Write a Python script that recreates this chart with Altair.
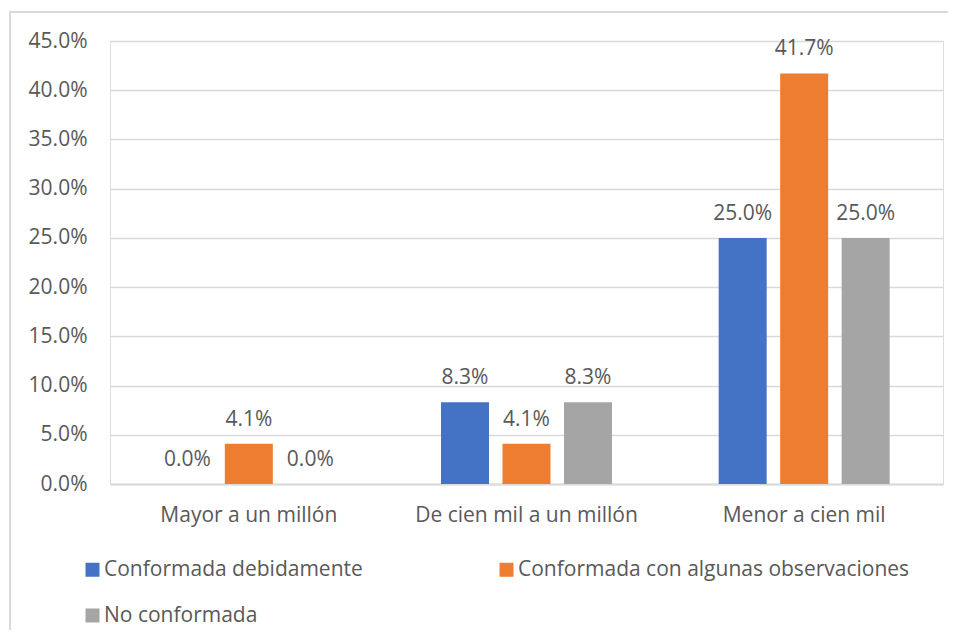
import altair as alt
import pandas as pd

categories = ["Mayor a un millón", "De cien mil a un millón", "Menor a cien mil"]
series = ["Conformada debidamente", "Conformada con algunas observaciones", "No conformada"]
colors = ["#4472C4", "#ED7D31", "#A5A5A5"]
values_conformada = [0.0, 0.083, 0.25]
values_observaciones = [0.041, 0.041, 0.417]
values_no = [0.0, 0.083, 0.25]
y_ticks = [0, 0.05, 0.10, 0.15, 0.20, 0.25, 0.30, 0.35, 0.40, 0.45]

rows = []
for i, c in enumerate(categories):
    for s, vals in zip(series, [values_conformada, values_observaciones, values_no]):
        rows.append({"cat": c, "serie": s, "v": vals[i]})
df = pd.DataFrame(rows)

FONT = "Open Sans"
TXT = "#595959"
FS = 21

x = alt.X("cat:N", sort=categories, title=None,
          scale=alt.Scale(paddingInner=0, paddingOuter=0),
          axis=alt.Axis(labelAngle=0, ticks=False, domainColor="#d9d9d9", domainWidth=2,
                        labelFontSize=FS, labelColor=TXT, labelFont=FONT, labelPadding=20,
                        labelBaseline="top", labelLimit=0))
xo = alt.XOffset("serie:N", sort=series,
                 scale=alt.Scale(paddingInner=0.22, paddingOuter=0.868))
y = alt.Y("v:Q", title=None,
          scale=alt.Scale(domain=[0, 0.45], nice=False),
          axis=alt.Axis(values=y_ticks, format=".1%", domain=False, ticks=False,
                        gridColor="#d9d9d9", gridWidth=1.5, labelFontSize=FS,
                        labelColor=TXT, labelFont=FONT, labelPadding=23))
color = alt.Color("serie:N", sort=series, title=None,
                  scale=alt.Scale(domain=series, range=colors),
                  legend=alt.Legend(orient="none", legendX=-28, legendY=518, columns=2,
                                    gridAlign="all", columnPadding=0, rowPadding=24,
                                    symbolType="square", symbolSize=196, symbolStrokeWidth=0,
                                    labelFontSize=FS, labelColor=TXT, labelFont=FONT,
                                    labelOffset=1, labelLimit=0, direction="horizontal"))

base = alt.Chart(df)
bars = base.mark_bar(size=48).encode(x=x, xOffset=xo, y=y, color=color)
labels = base.mark_text(baseline="alphabetic", dy=-18, fontSize=FS, font=FONT, color=TXT).encode(
    x=x, xOffset=xo, y=y, text=alt.Text("v:Q", format=".1%"))

frame = alt.Chart(pd.DataFrame({"a": [0]})).mark_rect(fill=None, stroke="#d9d9d9", strokeWidth=2).encode(
    x=alt.value(-100), x2=alt.value(900), y=alt.value(-29), y2=alt.value(700))

chart = alt.layer(frame, bars, labels).properties(
    width=833, height=443,
    autosize=alt.AutoSizeParams(type="none"),
    padding={"left": 102, "top": 33, "right": 5, "bottom": 146},
).configure_view(stroke=None).configure(background="white")

chart.save("out.html", embed_options={"renderer": "svg", "actions": False})
